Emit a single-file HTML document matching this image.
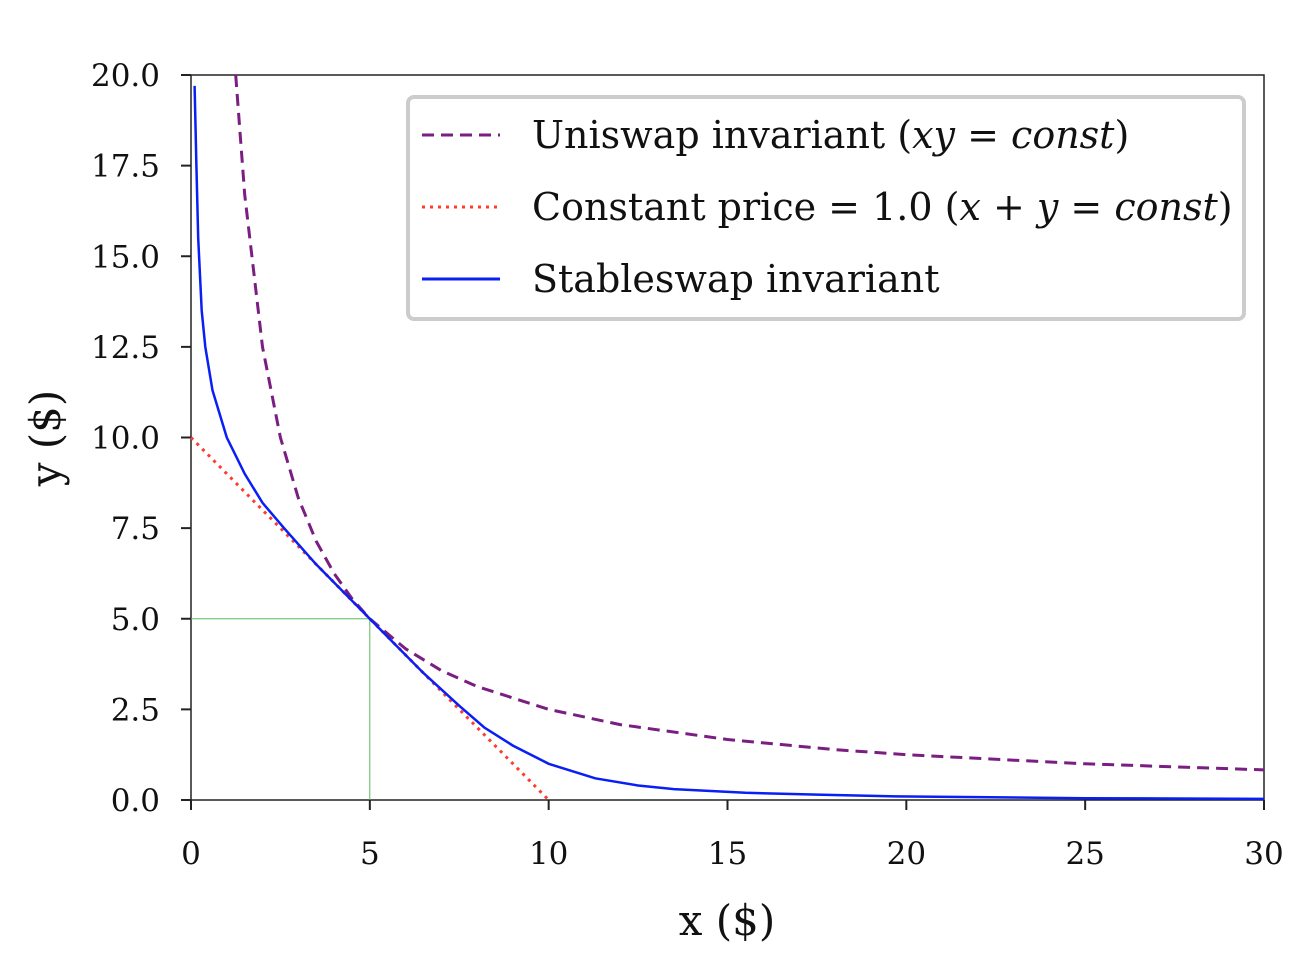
<!DOCTYPE html>
<html><head><meta charset="utf-8"><style>
body{margin:0;background:#fff}
svg text{font-family:"DejaVu Serif","Liberation Serif",serif;fill:#111}
</style></head><body>
<svg id="chart" width="1305" height="970" xmlns="http://www.w3.org/2000/svg"></svg>
<script>
const xTicks=[0,5,10,15,20,25,30];
const yTicks=[0,2.5,5,7.5,10,12.5,15,17.5,20];
const yTickLabels=["0.0","2.5","5.0","7.5","10.0","12.5","15.0","17.5","20.0"];
const stableX=[0.1,0.15,0.2,0.3,0.4,0.6,1.0,1.5,2.0,2.6,3.5,4.2,5.0,5.8,6.5,7.5,8.2,9.0,10,11.3,12.5,13.5,15.5,17.5,19.7,25,30];
const stableY=[19.7,17.5,15.5,13.5,12.5,11.3,10.0,9.0,8.2,7.5,6.5,5.8,5.0,4.2,3.5,2.6,2.0,1.5,1.0,0.6,0.4,0.3,0.2,0.15,0.1,0.05,0.03];
const uniX=[1.25,1.5,2,2.5,3,3.5,4,4.5,5,6,7,8,10,12,15,18,20,25,30];
const uniY=[20,16.7,12.5,10,8.33,7.14,6.25,5.56,5,4.17,3.57,3.13,2.5,2.08,1.67,1.39,1.25,1.0,0.83];
const constX=[0,10];
const constY=[10,0];
const refX=[0,5,5];
const refY=[5,5,0];
const X0=191,X1=1264,Y0=800,Y1=75;
const sx=v=>X0+(X1-X0)*v/30, sy=v=>Y0-(Y0-Y1)*v/20;
const svg=document.getElementById('chart');
const NS='http://www.w3.org/2000/svg';
function mk(t,a,p){const e=document.createElementNS(NS,t);for(const k in a)e.setAttribute(k,a[k]);(p||svg).appendChild(e);return e;}
function line(xs,ys,attrs){const d=xs.map((x,i)=>(i?'L':'M')+sx(x).toFixed(1)+' '+sy(ys[i]).toFixed(1)).join(' ');attrs.d=d;attrs.fill='none';return mk('path',attrs);}
const frame=mk('rect',{x:X0,y:Y1,width:X1-X0,height:Y0-Y1,fill:'none',stroke:'#222','stroke-width':1.5});


xTicks.forEach(v=>{
 const t=mk('line',{x1:sx(v),x2:sx(v),y1:Y0,y2:Y0+10,stroke:'#222','stroke-width':2});
 
 
 const l=mk('text',{x:sx(v),y:864,'text-anchor':'middle','font-size':31});l.textContent=v;
 
 
});
yTicks.forEach((v,i)=>{
 const t=mk('line',{x1:X0-10,x2:X0,y1:sy(v),y2:sy(v),stroke:'#222','stroke-width':2});
 
 
 const l=mk('text',{x:160,y:sy(v)+11,'text-anchor':'end','font-size':31});l.textContent=yTickLabels[i];
 
 
});
const xl=mk('text',{x:727,y:935,'text-anchor':'middle','font-size':42});xl.textContent='x ($)';


const yl=mk('text',{x:0,y:0,'text-anchor':'middle','font-size':42,transform:'translate(60,438) rotate(-90)'});yl.textContent='y ($)';


const r=line(refX,refY,{stroke:'#5cb85c','stroke-width':1});


const c=line(constX,constY,{stroke:'#ff3b30','stroke-width':3,'stroke-dasharray':'3 5'});


const u=line(uniX,uniY,{stroke:'#7b1e82','stroke-width':3,'stroke-dasharray':'12 7'});


const s=line(stableX,stableY,{stroke:'#0a1ff5','stroke-width':2.5});


const lg=mk('g',{});


mk('rect',{x:408,y:97,width:836,height:222,rx:6,fill:'#fff',stroke:'#ccc','stroke-width':4},lg);
const entries=[['Uniswap invariant (<tspan font-style="italic">xy</tspan> = <tspan font-style="italic">const</tspan>)','#7b1e82','12 7'],['Constant price = 1.0 (<tspan font-style="italic">x</tspan> + <tspan font-style="italic">y</tspan> = <tspan font-style="italic">const</tspan>)','#ff3b30','3 5'],['Stableswap invariant','#0a1ff5','']];
entries.forEach((e,i)=>{
 const y=135+i*72;
 const g=mk('g',{},lg);
 
 
 const a={x1:422,x2:500,y1:y,y2:y,stroke:e[1],'stroke-width':3};if(e[2])a['stroke-dasharray']=e[2];
 mk('line',a,g);
 const t=mk('text',{x:532,y:y+13,'font-size':38},g);t.innerHTML=e[0];
});
</script>
</body></html>
